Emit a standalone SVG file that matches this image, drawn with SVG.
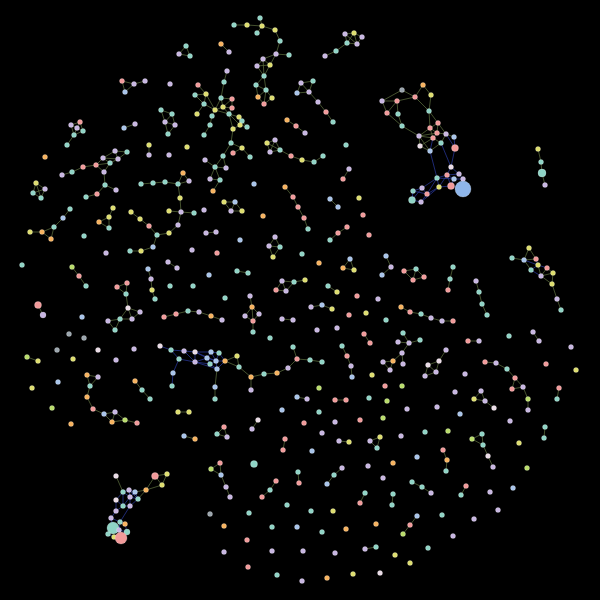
<svg xmlns="http://www.w3.org/2000/svg" width="600" height="600" viewBox="0 0 600 600">
<style>
.e{fill:none;stroke-width:0.8;stroke-linecap:round}
.eo{stroke:#56663a}
.en{stroke:#26348f}
circle{stroke:#ffffff;stroke-opacity:0.35;stroke-width:0.6}
.a{fill:#a8c4ea}.c{fill:#8fd4c6}.p{fill:#f29a9a}.y{fill:#dede6e}.g2{fill:#b9dd6a}.l{fill:#c8b6e2}.o{fill:#f7b25e}.w{fill:#eadbe6}.g{fill:#9aa5ad}.big{fill:#8fb6ea}
</style>
<rect x="0" y="0" width="600" height="600" fill="#000"/>
<g id="connectors">
<path class="e eo" d="M186 46L179 54M179 54L190 56M190 56L186 46M122 81L134 84M134 84L145 81M122 81L125 92M125 92L134 84M198 85L206 94M195 95L206 94M195 95L204 104M197 114L204 104M206 94L204 104M206 94L215 110M204 104L215 110M227 71L224 82M224 82L221 98M221 98L232 99M221 98L223 107M221 98L215 110M215 110L223 107M223 107L232 99M223 107L232 108M232 99L232 108M215 110L229 114M223 107L229 114M229 114L232 108M229 114L239 117M229 114L240 125M239 117L242 121M242 121L247 127M240 125L247 127M239 117L240 125M233 129L229 114M233 129L240 125M215 110L212 116M212 116L210 125M210 125L204 135M233 129L231 143M231 143L242 148M242 148L250 157M242 148L233 153M231 143L223 156M223 156L215 167M215 167L205 160M223 156L226 168M226 168L215 167M215 167L210 179M215 167L220 180M220 180L213 191M210 179L220 180M161 110L172 114M161 110L165 122M172 114L165 122M172 114L175 125M165 122L175 125M165 122L168 134M175 125L168 134M124 128L135 124M80 122L71 125M80 122L77 128M80 122L83 131M71 125L77 128M71 125L74 135M77 128L83 131M77 128L74 135M83 131L74 135M74 135L67 145M149 145L149 155M62 175L72 172M72 172L83 167M83 167L96 165M96 165L103 158M96 165L110 163M96 165L104 172M103 158L115 151M115 151L127 152M127 152L118 159M118 159L110 163M103 158L110 163M115 151L118 159M103 158L118 159M110 163L104 172M104 172L105 185M105 185L116 190M105 185L97 194M97 194L86 197M36 183L45 189M36 183L33 193M36 183L41 198M45 189L33 193M45 189L41 198M33 193L41 198M141 184L153 183M153 183L165 182M165 182L178 184M178 184L183 173M183 173L189 181M189 181L178 184M178 184L180 198M180 198L181 212M169 211L181 212M181 212L194 213M181 212L178 225M178 225L169 233M169 233L157 235M157 235L149 226M149 226L140 219M140 219L131 212M157 235L153 247M153 247L141 251M141 251L130 251M113 208L109 217M109 217L99 222M99 222L109 228M109 228L109 217M70 209L63 218M63 218L54 227M54 227L42 232M42 232L30 232M42 232L51 239M51 239L54 227M72 267L79 276M79 276L86 286M168 262L177 268M148 269L151 279M151 279L152 290M152 290L155 299M117 287L127 283M127 283L126 294M126 294L117 287M126 294L128 308M234 25L247 25M247 25L262 26M260 18L262 26M262 26L257 33M262 26L275 30M275 30L280 41M280 41L276 54M276 54L289 55M276 54L263 59M276 54L270 65M263 59L257 66M263 59L270 65M257 66L270 65M257 66L264 76M270 65L264 76M263 59L264 76M264 76L256 85M264 76L266 90M256 85L266 90M256 85L258 97M266 90L272 98M258 97L264 104M264 104L266 90M272 98L264 104M258 97L266 90M221 44L229 52M345 34L354 33M354 33L362 37M345 34L347 43M345 34L357 44M354 33L347 43M354 33L357 44M362 37L357 44M347 43L357 44M347 43L336 51M336 51L325 56M301 83L313 81M313 81L309 92M309 92L297 93M297 93L301 83M301 83L309 92M309 92L318 102M318 102L326 112M326 112L333 122M287 120L296 126M296 126L305 133M275 140L267 143M267 143L270 152M270 152L280 150M275 140L280 150M267 143L280 150M275 140L270 152M280 150L291 156M291 156L302 160M302 160L314 162M314 162L323 156M349 169L343 179M285 187L293 197M293 197L298 207M298 207L304 218M304 218L308 229M330 199L338 207M224 202L235 202M224 202L231 211M235 202L231 211M235 202L242 211M231 211L242 211M206 233L216 232M347 227L338 233M338 233L330 240M275 237L269 246M275 237L280 247M269 246L280 247M269 246L273 257M280 247L273 257M350 259L343 268M343 268L354 270M354 270L350 259M386 256L391 267M391 267L382 275M237 271L248 273M282 281L276 290M276 290L286 291M282 281L286 291M282 281L294 282M286 291L294 282M294 282L305 280M328 286L337 292"/>
<path class="e eo" d="M423 85L431 95M423 85L415 97M415 97L402 90M415 97L429 111M431 95L429 111M402 90L382 101M382 101L397 101M397 101L415 97M382 101L387 113M387 113L397 101M397 101L398 114M387 113L402 126M398 114L402 126M402 126L419 136M429 111L430 128M429 111L438 123M419 136L430 128M419 136L433 138M419 136L437 133M419 136L420 146M419 136L430 151M430 128L438 123M430 128L437 133M430 128L433 138M438 123L446 134M438 123L437 133M437 133L446 134M437 133L433 138M446 134L454 137M433 138L441 143M441 143L446 134M433 138L420 146M420 146L430 151M430 151L441 143"/>
<path class="e en" d="M430 151L433 138M454 137L455 148M446 134L455 148M455 148L451 167M441 143L451 167M430 151L437 178M451 167L447 175M451 167L459 174M437 178L447 175M437 178L454 179M437 178L439 187M447 175L459 174M447 175L454 179M459 174L463 179M454 179L463 179M454 179L451 186M447 175L451 186M451 186L463 189M439 187L451 186M439 187L447 175M437 178L422 188M422 188L413 191M422 188L427 194M413 191L412 200M427 194L421 202M412 200L421 202M413 191L427 194M422 188L412 200M439 187L427 194M437 178L427 194M421 202L439 187"/>
<path class="e eo" d="M538 149L541 162M541 162L542 173M542 173L545 185M512 258L524 260M529 248L524 260M529 248L536 259M524 260L536 259M524 260L531 270M538 265L541 276M547 268L541 276M547 268L553 273M541 276L553 273M541 276L552 284M553 273L552 284M552 284L557 299M557 299L561 310M404 271L416 269M404 271L413 280M416 269L413 280M416 269L424 277M413 280L424 277M453 267L450 279M450 279L448 290M476 281L479 292M479 292L482 304M482 304L487 315M38 305L43 315M128 308L140 312M140 312L132 319M128 308L132 319M128 308L120 319M120 319L132 319M108 321L120 319M120 319L115 330M108 321L115 330M164 317L176 314M176 314L188 311M188 311L199 312M199 312L211 316M211 316L222 320M27 357L38 361M87 375L98 377M98 377L90 386M87 375L90 386M90 386L87 397M87 397L93 409M93 409L104 414M104 414L115 412M104 414L112 422M115 412L112 422M115 412L125 420M112 422L125 420M125 420L137 423M135 381L142 390M142 390L150 399M178 412L189 412M184 436L195 439M250 296L252 307M252 307L245 316M252 307L259 314M245 316L253 321M259 314L253 321M252 307L253 321M253 321L253 332M311 307L322 305M322 305L332 309M282 319L293 320M364 334L370 343M342 346L347 356M347 356L351 366M351 366L352 377M398 342L409 343M403 333L409 343M409 343L420 340M409 343L402 353M402 353L403 364M402 353L393 361M393 361L383 362M383 362L390 370M393 361L390 370M297 397L307 399M335 400L346 400M258 420L252 429M224 427L217 434M217 434L227 437M227 437L224 427M285 439L283 450M339 441L349 442M380 437L370 441M370 441L377 448M377 448L380 437M220 463L211 469M211 469L221 475M220 463L221 475M221 475L226 487M226 487L230 497M298 472L299 483M342 468L334 475M334 475L327 484M276 481L270 490M270 490L262 497M365 493L360 503M393 494L392 505M365 549L376 547M401 307L410 312M410 312L421 314M421 314L431 318M431 318L442 321M442 321L453 321M533 332L539 341M468 341L479 341M446 350L439 361M439 361L428 365M439 361L436 372M428 365L436 372M428 365L425 376M436 372L425 376M485 362L496 363M496 363L507 369M507 369L515 378M515 378L512 389M515 378L523 387M512 389L523 387M523 387L528 399M528 399L528 410M559 388L557 399M481 391L474 399M481 391L485 401M474 399L485 401M485 401L494 408M482 434L472 439M482 434L483 445M472 439L483 445M483 445L488 456M488 456L493 467M545 427L544 438M443 450L447 460M447 460L446 471M412 482L422 487M422 487L431 493M466 486L461 495M417 516L410 525M410 525L403 534"/>
<path class="e en" d="M524 260L538 265M536 259L538 265M538 265L531 270M538 265L547 268M531 270L541 276M160 346L171 350M171 350L184 351M184 351L195 352M171 350L179 359M179 359L173 373M173 373L172 386M184 351L195 362M179 359L195 362M195 352L195 362M195 352L207 358M195 352L211 352M195 362L207 358M195 362L210 364M211 352L219 353M211 352L207 358M211 352L216 361M219 353L216 361M219 353L225 361M207 358L216 361M207 358L210 364M216 361L225 361M210 364L217 369M216 361L217 369M225 361L217 369M210 364L216 361M195 352L216 361M195 362L217 369"/>
<path class="e eo" d="M225 361L237 356M237 356L239 367M239 367L225 361M239 367L251 377M251 377L264 374M264 374L277 373M277 373L288 368M288 368L297 359M297 359L293 347M297 359L310 360M310 360L322 362M251 377L251 390M217 369L215 387M215 387L215 399M116 476L123 492M155 476L167 474M155 476L162 485M167 474L162 485M155 476L146 490M162 485L146 490M146 490L135 492M146 490L138 499"/>
<path class="e en" d="M123 492L129 490M129 490L135 492M123 492L130 497M129 490L130 497M135 492L130 497M135 492L138 499M130 497L138 499M123 492L116 500M116 500L123 506M123 506L130 506M130 497L123 506M130 497L130 506M138 499L130 506M116 500L116 511M123 506L116 511M130 506L120 522M116 511L111 518M111 518L120 522M120 522L125 524M111 518L113 528M113 528L119 530M120 522L119 530M125 524L127 532M119 530L127 532M113 528L108 534M108 534L114 537M114 537L121 538M119 530L121 538M127 532L121 538M123 492L123 506M129 490L138 499"/>
</g>
<g id="nodes">
<g id="n1" class="c"><circle cx="186" cy="46" r="2.5"/></g>
<g id="n2" class="l"><circle cx="179" cy="54" r="2.5"/></g>
<g id="n3" class="c"><circle cx="190" cy="56" r="2.5"/></g>
<g id="n4" class="p"><circle cx="122" cy="81" r="2.5"/></g>
<g id="n5" class="l"><circle cx="134" cy="84" r="2.5"/></g>
<g id="n6" class="l"><circle cx="145" cy="81" r="2.5"/></g>
<g id="n7" class="a"><circle cx="125" cy="92" r="2.5"/></g>
<g id="n8" class="l"><circle cx="170" cy="84" r="2.5"/></g>
<g id="n9" class="p"><circle cx="198" cy="85" r="2.5"/></g>
<g id="n10" class="c"><circle cx="195" cy="95" r="2.5"/></g>
<g id="n11" class="y"><circle cx="197" cy="114" r="2.5"/></g>
<g id="n12" class="l"><circle cx="227" cy="71" r="2.5"/></g>
<g id="n13" class="c"><circle cx="224" cy="82" r="2.5"/></g>
<g id="n14" class="c"><circle cx="221" cy="98" r="2.5"/></g>
<g id="n15" class="y"><circle cx="206" cy="94" r="2.5"/></g>
<g id="n16" class="c"><circle cx="204" cy="104" r="2.5"/></g>
<g id="n17" class="y"><circle cx="215" cy="110" r="2.5"/></g>
<g id="n18" class="p"><circle cx="232" cy="99" r="2.5"/></g>
<g id="n19" class="y"><circle cx="223" cy="107" r="2.5"/></g>
<g id="n20" class="p"><circle cx="232" cy="108" r="2.5"/></g>
<g id="n21" class="c"><circle cx="229" cy="114" r="2.5"/></g>
<g id="n22" class="y"><circle cx="239" cy="117" r="2.5"/></g>
<g id="n23" class="c"><circle cx="242" cy="121" r="2.5"/></g>
<g id="n24" class="y"><circle cx="240" cy="125" r="2.5"/></g>
<g id="n25" class="c"><circle cx="247" cy="127" r="2.5"/></g>
<g id="n26" class="y"><circle cx="233" cy="129" r="2.5"/></g>
<g id="n27" class="c"><circle cx="212" cy="116" r="2.5"/></g>
<g id="n28" class="c"><circle cx="210" cy="125" r="2.5"/></g>
<g id="n29" class="c"><circle cx="204" cy="135" r="2.5"/></g>
<g id="n30" class="c"><circle cx="231" cy="143" r="2.5"/></g>
<g id="n31" class="y"><circle cx="242" cy="148" r="2.5"/></g>
<g id="n32" class="p"><circle cx="233" cy="153" r="2.5"/></g>
<g id="n33" class="c"><circle cx="250" cy="157" r="2.5"/></g>
<g id="n34" class="c"><circle cx="223" cy="156" r="2.5"/></g>
<g id="n35" class="c"><circle cx="215" cy="167" r="2.5"/></g>
<g id="n36" class="l"><circle cx="205" cy="160" r="2.5"/></g>
<g id="n37" class="l"><circle cx="226" cy="168" r="2.5"/></g>
<g id="n38" class="l"><circle cx="210" cy="179" r="2.5"/></g>
<g id="n39" class="c"><circle cx="220" cy="180" r="2.5"/></g>
<g id="n40" class="o"><circle cx="213" cy="191" r="2.5"/></g>
<g id="n41" class="c"><circle cx="161" cy="110" r="2.5"/></g>
<g id="n42" class="c"><circle cx="172" cy="114" r="2.5"/></g>
<g id="n43" class="l"><circle cx="165" cy="122" r="2.5"/></g>
<g id="n44" class="l"><circle cx="175" cy="125" r="2.5"/></g>
<g id="n45" class="c"><circle cx="168" cy="134" r="2.5"/></g>
<g id="n46" class="a"><circle cx="124" cy="128" r="2.5"/></g>
<g id="n47" class="l"><circle cx="135" cy="124" r="2.5"/></g>
<g id="n48" class="p"><circle cx="80" cy="122" r="2.5"/></g>
<g id="n49" class="l"><circle cx="71" cy="125" r="2.5"/></g>
<g id="n50" class="l"><circle cx="77" cy="128" r="2.5"/></g>
<g id="n51" class="c"><circle cx="83" cy="131" r="2.5"/></g>
<g id="n52" class="c"><circle cx="74" cy="135" r="2.5"/></g>
<g id="n53" class="c"><circle cx="67" cy="145" r="2.5"/></g>
<g id="n54" class="y"><circle cx="149" cy="145" r="2.5"/></g>
<g id="n55" class="l"><circle cx="149" cy="155" r="2.5"/></g>
<g id="n56" class="y"><circle cx="187" cy="147" r="2.5"/></g>
<g id="n57" class="l"><circle cx="169" cy="155" r="2.5"/></g>
<g id="n58" class="o"><circle cx="45" cy="157" r="2.5"/></g>
<g id="n59" class="l"><circle cx="115" cy="151" r="2.5"/></g>
<g id="n60" class="c"><circle cx="127" cy="152" r="2.5"/></g>
<g id="n61" class="l"><circle cx="103" cy="158" r="2.5"/></g>
<g id="n62" class="l"><circle cx="118" cy="159" r="2.5"/></g>
<g id="n63" class="c"><circle cx="110" cy="163" r="2.5"/></g>
<g id="n64" class="p"><circle cx="96" cy="165" r="2.5"/></g>
<g id="n65" class="l"><circle cx="104" cy="172" r="2.5"/></g>
<g id="n66" class="p"><circle cx="83" cy="167" r="2.5"/></g>
<g id="n67" class="c"><circle cx="72" cy="172" r="2.5"/></g>
<g id="n68" class="l"><circle cx="62" cy="175" r="2.5"/></g>
<g id="n69" class="c"><circle cx="105" cy="185" r="2.5"/></g>
<g id="n70" class="l"><circle cx="116" cy="190" r="2.5"/></g>
<g id="n71" class="p"><circle cx="97" cy="194" r="2.5"/></g>
<g id="n72" class="c"><circle cx="86" cy="197" r="2.5"/></g>
<g id="n73" class="y"><circle cx="36" cy="183" r="2.5"/></g>
<g id="n74" class="l"><circle cx="45" cy="189" r="2.5"/></g>
<g id="n75" class="c"><circle cx="33" cy="193" r="2.5"/></g>
<g id="n76" class="c"><circle cx="41" cy="198" r="2.5"/></g>
<g id="n77" class="c"><circle cx="141" cy="184" r="2.5"/></g>
<g id="n78" class="c"><circle cx="153" cy="183" r="2.5"/></g>
<g id="n79" class="c"><circle cx="165" cy="182" r="2.5"/></g>
<g id="n80" class="c"><circle cx="178" cy="184" r="2.5"/></g>
<g id="n81" class="o"><circle cx="183" cy="173" r="2.5"/></g>
<g id="n82" class="l"><circle cx="189" cy="181" r="2.5"/></g>
<g id="n83" class="y"><circle cx="180" cy="198" r="2.5"/></g>
<g id="n84" class="l"><circle cx="181" cy="212" r="2.5"/></g>
<g id="n85" class="y"><circle cx="169" cy="211" r="2.5"/></g>
<g id="n86" class="c"><circle cx="194" cy="213" r="2.5"/></g>
<g id="n87" class="l"><circle cx="178" cy="225" r="2.5"/></g>
<g id="n88" class="y"><circle cx="169" cy="233" r="2.5"/></g>
<g id="n89" class="c"><circle cx="157" cy="235" r="2.5"/></g>
<g id="n90" class="a"><circle cx="153" cy="247" r="2.5"/></g>
<g id="n91" class="y"><circle cx="141" cy="251" r="2.5"/></g>
<g id="n92" class="c"><circle cx="130" cy="251" r="2.5"/></g>
<g id="n93" class="p"><circle cx="149" cy="226" r="2.5"/></g>
<g id="n94" class="y"><circle cx="140" cy="219" r="2.5"/></g>
<g id="n95" class="y"><circle cx="131" cy="212" r="2.5"/></g>
<g id="n96" class="y"><circle cx="113" cy="208" r="2.5"/></g>
<g id="n97" class="y"><circle cx="109" cy="217" r="2.5"/></g>
<g id="n98" class="o"><circle cx="99" cy="222" r="2.5"/></g>
<g id="n99" class="c"><circle cx="109" cy="228" r="2.5"/></g>
<g id="n100" class="c"><circle cx="70" cy="209" r="2.5"/></g>
<g id="n101" class="a"><circle cx="63" cy="218" r="2.5"/></g>
<g id="n102" class="c"><circle cx="54" cy="227" r="2.5"/></g>
<g id="n103" class="o"><circle cx="42" cy="232" r="2.5"/></g>
<g id="n104" class="y"><circle cx="30" cy="232" r="2.5"/></g>
<g id="n105" class="o"><circle cx="51" cy="239" r="2.5"/></g>
<g id="n106" class="c"><circle cx="84" cy="236" r="2.5"/></g>
<g id="n107" class="l"><circle cx="106" cy="253" r="2.5"/></g>
<g id="n108" class="l"><circle cx="192" cy="250" r="2.5"/></g>
<g id="n109" class="c"><circle cx="22" cy="265" r="2.5"/></g>
<g id="n110" class="g2"><circle cx="72" cy="267" r="2.5"/></g>
<g id="n111" class="p"><circle cx="79" cy="276" r="2.5"/></g>
<g id="n112" class="c"><circle cx="86" cy="286" r="2.5"/></g>
<g id="n113" class="l"><circle cx="168" cy="262" r="2.5"/></g>
<g id="n114" class="l"><circle cx="177" cy="268" r="2.5"/></g>
<g id="n115" class="a"><circle cx="148" cy="269" r="2.5"/></g>
<g id="n116" class="l"><circle cx="151" cy="279" r="2.5"/></g>
<g id="n117" class="y"><circle cx="152" cy="290" r="2.5"/></g>
<g id="n118" class="c"><circle cx="155" cy="299" r="2.5"/></g>
<g id="n119" class="p"><circle cx="117" cy="287" r="2.5"/></g>
<g id="n120" class="p"><circle cx="127" cy="283" r="2.5"/></g>
<g id="n121" class="c"><circle cx="126" cy="294" r="2.5"/></g>
<g id="n122" class="c"><circle cx="170" cy="286" r="2.5"/></g>
<g id="n123" class="c"><circle cx="193" cy="286" r="2.5"/></g>
<g id="n124" class="c"><circle cx="260" cy="18" r="2.5"/></g>
<g id="n125" class="y"><circle cx="247" cy="25" r="2.5"/></g>
<g id="n126" class="c"><circle cx="234" cy="25" r="2.5"/></g>
<g id="n127" class="y"><circle cx="262" cy="26" r="2.5"/></g>
<g id="n128" class="c"><circle cx="257" cy="33" r="2.5"/></g>
<g id="n129" class="y"><circle cx="275" cy="30" r="2.5"/></g>
<g id="n130" class="c"><circle cx="280" cy="41" r="2.5"/></g>
<g id="n131" class="l"><circle cx="276" cy="54" r="2.5"/></g>
<g id="n132" class="c"><circle cx="289" cy="55" r="2.5"/></g>
<g id="n133" class="l"><circle cx="263" cy="59" r="2.5"/></g>
<g id="n134" class="l"><circle cx="257" cy="66" r="2.5"/></g>
<g id="n135" class="y"><circle cx="270" cy="65" r="2.5"/></g>
<g id="n136" class="c"><circle cx="264" cy="76" r="2.5"/></g>
<g id="n137" class="c"><circle cx="256" cy="85" r="2.5"/></g>
<g id="n138" class="c"><circle cx="266" cy="90" r="2.5"/></g>
<g id="n139" class="o"><circle cx="258" cy="97" r="2.5"/></g>
<g id="n140" class="y"><circle cx="272" cy="98" r="2.5"/></g>
<g id="n141" class="p"><circle cx="264" cy="104" r="2.5"/></g>
<g id="n142" class="o"><circle cx="221" cy="44" r="2.5"/></g>
<g id="n143" class="l"><circle cx="229" cy="52" r="2.5"/></g>
<g id="n144" class="l"><circle cx="345" cy="34" r="2.5"/></g>
<g id="n145" class="y"><circle cx="354" cy="33" r="2.5"/></g>
<g id="n146" class="l"><circle cx="362" cy="37" r="2.5"/></g>
<g id="n147" class="c"><circle cx="347" cy="43" r="2.5"/></g>
<g id="n148" class="l"><circle cx="357" cy="44" r="2.5"/></g>
<g id="n149" class="c"><circle cx="336" cy="51" r="2.5"/></g>
<g id="n150" class="l"><circle cx="325" cy="56" r="2.5"/></g>
<g id="n151" class="l"><circle cx="301" cy="83" r="2.5"/></g>
<g id="n152" class="c"><circle cx="313" cy="81" r="2.5"/></g>
<g id="n153" class="a"><circle cx="297" cy="93" r="2.5"/></g>
<g id="n154" class="l"><circle cx="309" cy="92" r="2.5"/></g>
<g id="n155" class="l"><circle cx="318" cy="102" r="2.5"/></g>
<g id="n156" class="p"><circle cx="326" cy="112" r="2.5"/></g>
<g id="n157" class="c"><circle cx="333" cy="122" r="2.5"/></g>
<g id="n158" class="o"><circle cx="287" cy="120" r="2.5"/></g>
<g id="n159" class="p"><circle cx="296" cy="126" r="2.5"/></g>
<g id="n160" class="l"><circle cx="305" cy="133" r="2.5"/></g>
<g id="n161" class="l"><circle cx="275" cy="140" r="2.5"/></g>
<g id="n162" class="y"><circle cx="267" cy="143" r="2.5"/></g>
<g id="n163" class="l"><circle cx="270" cy="152" r="2.5"/></g>
<g id="n164" class="c"><circle cx="280" cy="150" r="2.5"/></g>
<g id="n165" class="p"><circle cx="291" cy="156" r="2.5"/></g>
<g id="n166" class="y"><circle cx="302" cy="160" r="2.5"/></g>
<g id="n167" class="c"><circle cx="314" cy="162" r="2.5"/></g>
<g id="n168" class="c"><circle cx="323" cy="156" r="2.5"/></g>
<g id="n169" class="c"><circle cx="346" cy="145" r="2.5"/></g>
<g id="n170" class="l"><circle cx="349" cy="169" r="2.5"/></g>
<g id="n171" class="p"><circle cx="343" cy="179" r="2.5"/></g>
<g id="n172" class="a"><circle cx="254" cy="184" r="2.5"/></g>
<g id="n173" class="o"><circle cx="285" cy="187" r="2.5"/></g>
<g id="n174" class="p"><circle cx="293" cy="197" r="2.5"/></g>
<g id="n175" class="p"><circle cx="298" cy="207" r="2.5"/></g>
<g id="n176" class="p"><circle cx="304" cy="218" r="2.5"/></g>
<g id="n177" class="c"><circle cx="308" cy="229" r="2.5"/></g>
<g id="n178" class="a"><circle cx="330" cy="199" r="2.5"/></g>
<g id="n179" class="a"><circle cx="338" cy="207" r="2.5"/></g>
<g id="n180" class="y"><circle cx="359" cy="198" r="2.5"/></g>
<g id="n181" class="p"><circle cx="363" cy="215" r="2.5"/></g>
<g id="n182" class="y"><circle cx="224" cy="202" r="2.5"/></g>
<g id="n183" class="a"><circle cx="235" cy="202" r="2.5"/></g>
<g id="n184" class="l"><circle cx="231" cy="211" r="2.5"/></g>
<g id="n185" class="y"><circle cx="242" cy="211" r="2.5"/></g>
<g id="n186" class="l"><circle cx="204" cy="210" r="2.5"/></g>
<g id="n187" class="o"><circle cx="263" cy="216" r="2.5"/></g>
<g id="n188" class="l"><circle cx="206" cy="233" r="2.5"/></g>
<g id="n189" class="l"><circle cx="216" cy="232" r="2.5"/></g>
<g id="n190" class="a"><circle cx="240" cy="240" r="2.5"/></g>
<g id="n191" class="p"><circle cx="347" cy="227" r="2.5"/></g>
<g id="n192" class="p"><circle cx="338" cy="233" r="2.5"/></g>
<g id="n193" class="c"><circle cx="330" cy="240" r="2.5"/></g>
<g id="n194" class="p"><circle cx="369" cy="235" r="2.5"/></g>
<g id="n195" class="l"><circle cx="275" cy="237" r="2.5"/></g>
<g id="n196" class="l"><circle cx="269" cy="246" r="2.5"/></g>
<g id="n197" class="c"><circle cx="280" cy="247" r="2.5"/></g>
<g id="n198" class="y"><circle cx="273" cy="257" r="2.5"/></g>
<g id="n199" class="p"><circle cx="217" cy="253" r="2.5"/></g>
<g id="n200" class="c"><circle cx="302" cy="254" r="2.5"/></g>
<g id="n201" class="o"><circle cx="319" cy="263" r="2.5"/></g>
<g id="n202" class="a"><circle cx="350" cy="259" r="2.5"/></g>
<g id="n203" class="o"><circle cx="343" cy="268" r="2.5"/></g>
<g id="n204" class="y"><circle cx="354" cy="270" r="2.5"/></g>
<g id="n205" class="a"><circle cx="386" cy="256" r="2.5"/></g>
<g id="n206" class="l"><circle cx="391" cy="267" r="2.5"/></g>
<g id="n207" class="a"><circle cx="382" cy="275" r="2.5"/></g>
<g id="n208" class="a"><circle cx="209" cy="275" r="2.5"/></g>
<g id="n209" class="c"><circle cx="237" cy="271" r="2.5"/></g>
<g id="n210" class="c"><circle cx="248" cy="273" r="2.5"/></g>
<g id="n211" class="l"><circle cx="282" cy="281" r="2.5"/></g>
<g id="n212" class="p"><circle cx="276" cy="290" r="2.5"/></g>
<g id="n213" class="l"><circle cx="286" cy="291" r="2.5"/></g>
<g id="n214" class="c"><circle cx="294" cy="282" r="2.5"/></g>
<g id="n215" class="y"><circle cx="305" cy="280" r="2.5"/></g>
<g id="n216" class="c"><circle cx="328" cy="286" r="2.5"/></g>
<g id="n217" class="y"><circle cx="337" cy="292" r="2.5"/></g>
<g id="n218" class="p"><circle cx="357" cy="296" r="2.5"/></g>
<g id="n219" class="l"><circle cx="378" cy="299" r="2.5"/></g>
<g id="n220" class="c"><circle cx="225" cy="298" r="2.5"/></g>
<g id="n221" class="l"><circle cx="250" cy="296" r="2.5"/></g>
<g id="n222" class="o"><circle cx="423" cy="85" r="2.5"/></g>
<g id="n223" class="y"><circle cx="431" cy="95" r="2.5"/></g>
<g id="n224" class="p"><circle cx="415" cy="97" r="2.5"/></g>
<g id="n225" class="g"><circle cx="402" cy="90" r="2.5"/></g>
<g id="n226" class="l"><circle cx="382" cy="101" r="2.5"/></g>
<g id="n227" class="p"><circle cx="397" cy="101" r="2.5"/></g>
<g id="n228" class="p"><circle cx="387" cy="113" r="2.5"/></g>
<g id="n229" class="c"><circle cx="398" cy="114" r="2.5"/></g>
<g id="n230" class="c"><circle cx="402" cy="126" r="2.5"/></g>
<g id="n231" class="c"><circle cx="429" cy="111" r="2.5"/></g>
<g id="n232" class="p"><circle cx="438" cy="123" r="2.5"/></g>
<g id="n233" class="p"><circle cx="430" cy="128" r="2.5"/></g>
<g id="n234" class="p"><circle cx="437" cy="133" r="2.5"/></g>
<g id="n235" class="l"><circle cx="446" cy="134" r="2.5"/></g>
<g id="n236" class="a"><circle cx="454" cy="137" r="2.5"/></g>
<g id="n237" class="l"><circle cx="419" cy="136" r="2.5"/></g>
<g id="n238" class="p"><circle cx="433" cy="138" r="2.5"/></g>
<g id="n239" class="c"><circle cx="441" cy="143" r="2.5"/></g>
<g id="n240" class="w"><circle cx="420" cy="146" r="2.5"/></g>
<g id="n241" class="a"><circle cx="430" cy="151" r="2.5"/></g>
<g id="n242" class="p"><circle cx="455" cy="148" r="3.5"/></g>
<g id="n243" class="w"><circle cx="451" cy="167" r="2.5"/></g>
<g id="n244" class="c"><circle cx="437" cy="178" r="2.5"/></g>
<g id="n245" class="p"><circle cx="447" cy="175" r="2.5"/></g>
<g id="n246" class="l"><circle cx="459" cy="174" r="2.5"/></g>
<g id="n247" class="a"><circle cx="454" cy="179" r="2.5"/></g>
<g id="n248" class="l"><circle cx="463" cy="179" r="2.5"/></g>
<g id="n249" class="p"><circle cx="451" cy="186" r="3.5"/></g>
<g id="n250" class="y"><circle cx="439" cy="187" r="2.5"/></g>
<g id="n251" class="big"><circle cx="463" cy="189" r="8"/></g>
<g id="n252" class="l"><circle cx="422" cy="188" r="2.5"/></g>
<g id="n253" class="c"><circle cx="413" cy="191" r="2.5"/></g>
<g id="n254" class="p"><circle cx="427" cy="194" r="2.5"/></g>
<g id="n255" class="c"><circle cx="412" cy="200" r="3.5"/></g>
<g id="n256" class="l"><circle cx="421" cy="202" r="2.5"/></g>
<g id="n257" class="y"><circle cx="538" cy="149" r="2.5"/></g>
<g id="n258" class="c"><circle cx="541" cy="162" r="2.5"/></g>
<g id="n259" class="c"><circle cx="542" cy="173" r="4"/></g>
<g id="n260" class="l"><circle cx="545" cy="185" r="2.5"/></g>
<g id="n261" class="y"><circle cx="529" cy="248" r="2.5"/></g>
<g id="n262" class="c"><circle cx="512" cy="258" r="2.5"/></g>
<g id="n263" class="a"><circle cx="524" cy="260" r="2.5"/></g>
<g id="n264" class="p"><circle cx="536" cy="259" r="2.5"/></g>
<g id="n265" class="y"><circle cx="538" cy="265" r="2.5"/></g>
<g id="n266" class="c"><circle cx="531" cy="270" r="2.5"/></g>
<g id="n267" class="p"><circle cx="547" cy="268" r="2.5"/></g>
<g id="n268" class="l"><circle cx="541" cy="276" r="2.5"/></g>
<g id="n269" class="y"><circle cx="553" cy="273" r="2.5"/></g>
<g id="n270" class="y"><circle cx="552" cy="284" r="2.5"/></g>
<g id="n271" class="l"><circle cx="557" cy="299" r="2.5"/></g>
<g id="n272" class="c"><circle cx="561" cy="310" r="2.5"/></g>
<g id="n273" class="p"><circle cx="404" cy="271" r="2.5"/></g>
<g id="n274" class="c"><circle cx="416" cy="269" r="2.5"/></g>
<g id="n275" class="p"><circle cx="413" cy="280" r="2.5"/></g>
<g id="n276" class="p"><circle cx="424" cy="277" r="2.5"/></g>
<g id="n277" class="c"><circle cx="453" cy="267" r="2.5"/></g>
<g id="n278" class="c"><circle cx="450" cy="279" r="2.5"/></g>
<g id="n279" class="p"><circle cx="448" cy="290" r="2.5"/></g>
<g id="n280" class="l"><circle cx="476" cy="281" r="2.5"/></g>
<g id="n281" class="c"><circle cx="479" cy="292" r="2.5"/></g>
<g id="n282" class="c"><circle cx="482" cy="304" r="2.5"/></g>
<g id="n283" class="c"><circle cx="487" cy="315" r="2.5"/></g>
<g id="n284" class="p"><circle cx="38" cy="305" r="3.5"/></g>
<g id="n285" class="l"><circle cx="43" cy="315" r="3"/></g>
<g id="n286" class="a"><circle cx="82" cy="317" r="2.5"/></g>
<g id="n287" class="w"><circle cx="128" cy="308" r="2.5"/></g>
<g id="n288" class="l"><circle cx="140" cy="312" r="2.5"/></g>
<g id="n289" class="c"><circle cx="120" cy="319" r="2.5"/></g>
<g id="n290" class="l"><circle cx="132" cy="319" r="2.5"/></g>
<g id="n291" class="l"><circle cx="108" cy="321" r="2.5"/></g>
<g id="n292" class="c"><circle cx="115" cy="330" r="2.5"/></g>
<g id="n293" class="p"><circle cx="164" cy="317" r="2.5"/></g>
<g id="n294" class="p"><circle cx="176" cy="314" r="2.5"/></g>
<g id="n295" class="c"><circle cx="188" cy="311" r="2.5"/></g>
<g id="n296" class="l"><circle cx="199" cy="312" r="2.5"/></g>
<g id="n297" class="o"><circle cx="211" cy="316" r="2.5"/></g>
<g id="n298" class="l"><circle cx="222" cy="320" r="2.5"/></g>
<g id="n299" class="g"><circle cx="69" cy="334" r="2.5"/></g>
<g id="n300" class="g"><circle cx="84" cy="338" r="2.5"/></g>
<g id="n301" class="g"><circle cx="57" cy="350" r="2.5"/></g>
<g id="n302" class="w"><circle cx="98" cy="350" r="2.5"/></g>
<g id="n303" class="l"><circle cx="134" cy="349" r="2.5"/></g>
<g id="n304" class="g2"><circle cx="27" cy="357" r="2.5"/></g>
<g id="n305" class="y"><circle cx="38" cy="361" r="2.5"/></g>
<g id="n306" class="y"><circle cx="73" cy="359" r="2.5"/></g>
<g id="n307" class="l"><circle cx="116" cy="360" r="2.5"/></g>
<g id="n308" class="a"><circle cx="58" cy="382" r="2.5"/></g>
<g id="n309" class="y"><circle cx="32" cy="388" r="2.5"/></g>
<g id="n310" class="g2"><circle cx="52" cy="408" r="2.5"/></g>
<g id="n311" class="o"><circle cx="71" cy="424" r="2.5"/></g>
<g id="n312" class="w"><circle cx="160" cy="346" r="2.5"/></g>
<g id="n313" class="c"><circle cx="171" cy="350" r="2.5"/></g>
<g id="n314" class="l"><circle cx="184" cy="351" r="2.5"/></g>
<g id="n315" class="w"><circle cx="195" cy="352" r="2.5"/></g>
<g id="n316" class="c"><circle cx="179" cy="359" r="2.5"/></g>
<g id="n317" class="l"><circle cx="195" cy="362" r="2.5"/></g>
<g id="n318" class="a"><circle cx="173" cy="373" r="2.5"/></g>
<g id="n319" class="c"><circle cx="172" cy="386" r="2.5"/></g>
<g id="n320" class="a"><circle cx="211" cy="352" r="2.5"/></g>
<g id="n321" class="c"><circle cx="219" cy="353" r="2.5"/></g>
<g id="n322" class="a"><circle cx="207" cy="358" r="2.5"/></g>
<g id="n323" class="a"><circle cx="216" cy="361" r="2.5"/></g>
<g id="n324" class="o"><circle cx="225" cy="361" r="2.5"/></g>
<g id="n325" class="c"><circle cx="210" cy="364" r="2.5"/></g>
<g id="n326" class="a"><circle cx="217" cy="369" r="2.5"/></g>
<g id="n327" class="y"><circle cx="237" cy="356" r="2.5"/></g>
<g id="n328" class="c"><circle cx="239" cy="367" r="2.5"/></g>
<g id="n329" class="o"><circle cx="251" cy="377" r="2.5"/></g>
<g id="n330" class="l"><circle cx="251" cy="390" r="2.5"/></g>
<g id="n331" class="a"><circle cx="215" cy="387" r="2.5"/></g>
<g id="n332" class="c"><circle cx="215" cy="399" r="2.5"/></g>
<g id="n333" class="c"><circle cx="264" cy="374" r="2.5"/></g>
<g id="n334" class="o"><circle cx="277" cy="373" r="2.5"/></g>
<g id="n335" class="l"><circle cx="288" cy="368" r="2.5"/></g>
<g id="n336" class="p"><circle cx="297" cy="359" r="2.5"/></g>
<g id="n337" class="c"><circle cx="293" cy="347" r="2.5"/></g>
<g id="n338" class="c"><circle cx="310" cy="360" r="2.5"/></g>
<g id="n339" class="c"><circle cx="322" cy="362" r="2.5"/></g>
<g id="n340" class="o"><circle cx="87" cy="375" r="2.5"/></g>
<g id="n341" class="l"><circle cx="98" cy="377" r="2.5"/></g>
<g id="n342" class="c"><circle cx="90" cy="386" r="2.5"/></g>
<g id="n343" class="o"><circle cx="87" cy="397" r="2.5"/></g>
<g id="n344" class="p"><circle cx="93" cy="409" r="2.5"/></g>
<g id="n345" class="a"><circle cx="104" cy="414" r="2.5"/></g>
<g id="n346" class="l"><circle cx="115" cy="412" r="2.5"/></g>
<g id="n347" class="o"><circle cx="112" cy="422" r="2.5"/></g>
<g id="n348" class="g2"><circle cx="125" cy="420" r="2.5"/></g>
<g id="n349" class="p"><circle cx="137" cy="423" r="2.5"/></g>
<g id="n350" class="o"><circle cx="135" cy="381" r="2.5"/></g>
<g id="n351" class="c"><circle cx="142" cy="390" r="2.5"/></g>
<g id="n352" class="c"><circle cx="150" cy="399" r="2.5"/></g>
<g id="n353" class="y"><circle cx="178" cy="412" r="2.5"/></g>
<g id="n354" class="y"><circle cx="189" cy="412" r="2.5"/></g>
<g id="n355" class="a"><circle cx="184" cy="436" r="2.5"/></g>
<g id="n356" class="o"><circle cx="195" cy="439" r="2.5"/></g>
<g id="n357" class="w"><circle cx="116" cy="476" r="2.5"/></g>
<g id="n358" class="p"><circle cx="155" cy="476" r="3.5"/></g>
<g id="n359" class="y"><circle cx="167" cy="474" r="2.5"/></g>
<g id="n360" class="y"><circle cx="162" cy="485" r="2.5"/></g>
<g id="n361" class="o"><circle cx="146" cy="490" r="2.5"/></g>
<g id="n362" class="c"><circle cx="123" cy="492" r="2.5"/></g>
<g id="n363" class="l"><circle cx="129" cy="490" r="2.5"/></g>
<g id="n364" class="a"><circle cx="135" cy="492" r="2.5"/></g>
<g id="n365" class="l"><circle cx="130" cy="497" r="2.5"/></g>
<g id="n366" class="c"><circle cx="138" cy="499" r="2.5"/></g>
<g id="n367" class="w"><circle cx="116" cy="500" r="2.5"/></g>
<g id="n368" class="c"><circle cx="123" cy="506" r="2.5"/></g>
<g id="n369" class="l"><circle cx="130" cy="506" r="2.5"/></g>
<g id="n370" class="l"><circle cx="116" cy="511" r="2.5"/></g>
<g id="n371" class="l"><circle cx="111" cy="518" r="2.5"/></g>
<g id="n372" class="c"><circle cx="120" cy="522" r="2.5"/></g>
<g id="n373" class="o"><circle cx="125" cy="524" r="2.5"/></g>
<g id="n374" class="c"><circle cx="113" cy="528" r="6"/></g>
<g id="n375" class="c"><circle cx="108" cy="534" r="2.5"/></g>
<g id="n376" class="l"><circle cx="119" cy="530" r="2.5"/></g>
<g id="n377" class="c"><circle cx="127" cy="532" r="3"/></g>
<g id="n378" class="y"><circle cx="114" cy="537" r="2.5"/></g>
<g id="n379" class="p"><circle cx="121" cy="538" r="6"/></g>
<g id="n380" class="o"><circle cx="252" cy="307" r="2.5"/></g>
<g id="n381" class="l"><circle cx="245" cy="316" r="2.5"/></g>
<g id="n382" class="l"><circle cx="259" cy="314" r="2.5"/></g>
<g id="n383" class="p"><circle cx="253" cy="321" r="2.5"/></g>
<g id="n384" class="c"><circle cx="253" cy="332" r="2.5"/></g>
<g id="n385" class="l"><circle cx="311" cy="307" r="2.5"/></g>
<g id="n386" class="a"><circle cx="322" cy="305" r="2.5"/></g>
<g id="n387" class="y"><circle cx="332" cy="309" r="2.5"/></g>
<g id="n388" class="p"><circle cx="349" cy="315" r="2.5"/></g>
<g id="n389" class="y"><circle cx="366" cy="313" r="2.5"/></g>
<g id="n390" class="c"><circle cx="386" cy="320" r="2.5"/></g>
<g id="n391" class="l"><circle cx="282" cy="319" r="2.5"/></g>
<g id="n392" class="l"><circle cx="293" cy="320" r="2.5"/></g>
<g id="n393" class="c"><circle cx="270" cy="338" r="2.5"/></g>
<g id="n394" class="l"><circle cx="317" cy="330" r="2.5"/></g>
<g id="n395" class="l"><circle cx="337" cy="328" r="2.5"/></g>
<g id="n396" class="p"><circle cx="364" cy="334" r="2.5"/></g>
<g id="n397" class="p"><circle cx="370" cy="343" r="2.5"/></g>
<g id="n398" class="c"><circle cx="342" cy="346" r="2.5"/></g>
<g id="n399" class="p"><circle cx="347" cy="356" r="2.5"/></g>
<g id="n400" class="l"><circle cx="351" cy="366" r="2.5"/></g>
<g id="n401" class="a"><circle cx="352" cy="377" r="2.5"/></g>
<g id="n402" class="y"><circle cx="372" cy="375" r="2.5"/></g>
<g id="n403" class="l"><circle cx="398" cy="342" r="2.5"/></g>
<g id="n404" class="c"><circle cx="403" cy="333" r="2.5"/></g>
<g id="n405" class="l"><circle cx="409" cy="343" r="2.5"/></g>
<g id="n406" class="c"><circle cx="420" cy="340" r="2.5"/></g>
<g id="n407" class="l"><circle cx="402" cy="353" r="2.5"/></g>
<g id="n408" class="l"><circle cx="383" cy="362" r="2.5"/></g>
<g id="n409" class="o"><circle cx="393" cy="361" r="2.5"/></g>
<g id="n410" class="l"><circle cx="390" cy="370" r="2.5"/></g>
<g id="n411" class="l"><circle cx="403" cy="364" r="2.5"/></g>
<g id="n412" class="g2"><circle cx="319" cy="388" r="2.5"/></g>
<g id="n413" class="p"><circle cx="385" cy="386" r="2.5"/></g>
<g id="n414" class="a"><circle cx="297" cy="397" r="2.5"/></g>
<g id="n415" class="l"><circle cx="307" cy="399" r="2.5"/></g>
<g id="n416" class="p"><circle cx="335" cy="400" r="2.5"/></g>
<g id="n417" class="p"><circle cx="346" cy="400" r="2.5"/></g>
<g id="n418" class="c"><circle cx="369" cy="398" r="2.5"/></g>
<g id="n419" class="g2"><circle cx="387" cy="401" r="2.5"/></g>
<g id="n420" class="a"><circle cx="282" cy="410" r="2.5"/></g>
<g id="n421" class="c"><circle cx="319" cy="412" r="2.5"/></g>
<g id="n422" class="w"><circle cx="258" cy="420" r="2.5"/></g>
<g id="n423" class="l"><circle cx="252" cy="429" r="2.5"/></g>
<g id="n424" class="p"><circle cx="304" cy="423" r="2.5"/></g>
<g id="n425" class="l"><circle cx="335" cy="422" r="2.5"/></g>
<g id="n426" class="p"><circle cx="360" cy="420" r="2.5"/></g>
<g id="n427" class="g2"><circle cx="383" cy="418" r="2.5"/></g>
<g id="n428" class="p"><circle cx="224" cy="427" r="2.5"/></g>
<g id="n429" class="c"><circle cx="217" cy="434" r="2.5"/></g>
<g id="n430" class="l"><circle cx="227" cy="437" r="2.5"/></g>
<g id="n431" class="l"><circle cx="322" cy="433" r="2.5"/></g>
<g id="n432" class="p"><circle cx="285" cy="439" r="2.5"/></g>
<g id="n433" class="p"><circle cx="283" cy="450" r="2.5"/></g>
<g id="n434" class="l"><circle cx="339" cy="441" r="2.5"/></g>
<g id="n435" class="y"><circle cx="349" cy="442" r="2.5"/></g>
<g id="n436" class="y"><circle cx="380" cy="437" r="2.5"/></g>
<g id="n437" class="l"><circle cx="370" cy="441" r="2.5"/></g>
<g id="n438" class="c"><circle cx="377" cy="448" r="2.5"/></g>
<g id="n439" class="a"><circle cx="312" cy="451" r="2.5"/></g>
<g id="n440" class="p"><circle cx="220" cy="463" r="2.5"/></g>
<g id="n441" class="g2"><circle cx="211" cy="469" r="2.5"/></g>
<g id="n442" class="a"><circle cx="221" cy="475" r="2.5"/></g>
<g id="n443" class="l"><circle cx="226" cy="487" r="2.5"/></g>
<g id="n444" class="l"><circle cx="230" cy="497" r="2.5"/></g>
<g id="n445" class="c"><circle cx="254" cy="464" r="3.5"/></g>
<g id="n446" class="c"><circle cx="298" cy="472" r="2.5"/></g>
<g id="n447" class="p"><circle cx="299" cy="483" r="2.5"/></g>
<g id="n448" class="l"><circle cx="342" cy="468" r="2.5"/></g>
<g id="n449" class="c"><circle cx="334" cy="475" r="2.5"/></g>
<g id="n450" class="a"><circle cx="327" cy="484" r="2.5"/></g>
<g id="n451" class="l"><circle cx="368" cy="466" r="2.5"/></g>
<g id="n452" class="o"><circle cx="393" cy="463" r="2.5"/></g>
<g id="n453" class="l"><circle cx="383" cy="478" r="2.5"/></g>
<g id="n454" class="p"><circle cx="276" cy="481" r="2.5"/></g>
<g id="n455" class="c"><circle cx="270" cy="490" r="2.5"/></g>
<g id="n456" class="p"><circle cx="262" cy="497" r="2.5"/></g>
<g id="n457" class="c"><circle cx="365" cy="493" r="2.5"/></g>
<g id="n458" class="p"><circle cx="360" cy="503" r="2.5"/></g>
<g id="n459" class="c"><circle cx="393" cy="494" r="2.5"/></g>
<g id="n460" class="c"><circle cx="392" cy="505" r="2.5"/></g>
<g id="n461" class="g"><circle cx="210" cy="514" r="2.5"/></g>
<g id="n462" class="c"><circle cx="249" cy="513" r="2.5"/></g>
<g id="n463" class="c"><circle cx="287" cy="505" r="2.5"/></g>
<g id="n464" class="c"><circle cx="311" cy="511" r="2.5"/></g>
<g id="n465" class="y"><circle cx="333" cy="511" r="2.5"/></g>
<g id="n466" class="o"><circle cx="224" cy="526" r="2.5"/></g>
<g id="n467" class="c"><circle cx="272" cy="527" r="2.5"/></g>
<g id="n468" class="a"><circle cx="297" cy="527" r="2.5"/></g>
<g id="n469" class="c"><circle cx="322" cy="532" r="2.5"/></g>
<g id="n470" class="o"><circle cx="346" cy="529" r="2.5"/></g>
<g id="n471" class="o"><circle cx="376" cy="524" r="2.5"/></g>
<g id="n472" class="p"><circle cx="247" cy="540" r="2.5"/></g>
<g id="n473" class="l"><circle cx="224" cy="552" r="2.5"/></g>
<g id="n474" class="l"><circle cx="272" cy="551" r="2.5"/></g>
<g id="n475" class="l"><circle cx="303" cy="551" r="2.5"/></g>
<g id="n476" class="l"><circle cx="335" cy="553" r="2.5"/></g>
<g id="n477" class="l"><circle cx="365" cy="549" r="2.5"/></g>
<g id="n478" class="c"><circle cx="376" cy="547" r="2.5"/></g>
<g id="n479" class="y"><circle cx="395" cy="555" r="2.5"/></g>
<g id="n480" class="p"><circle cx="248" cy="567" r="2.5"/></g>
<g id="n481" class="c"><circle cx="277" cy="575" r="2.5"/></g>
<g id="n482" class="l"><circle cx="302" cy="581" r="2.5"/></g>
<g id="n483" class="o"><circle cx="327" cy="578" r="2.5"/></g>
<g id="n484" class="y"><circle cx="353" cy="574" r="2.5"/></g>
<g id="n485" class="w"><circle cx="380" cy="573" r="2.5"/></g>
<g id="n486" class="o"><circle cx="401" cy="307" r="2.5"/></g>
<g id="n487" class="p"><circle cx="410" cy="312" r="2.5"/></g>
<g id="n488" class="c"><circle cx="421" cy="314" r="2.5"/></g>
<g id="n489" class="l"><circle cx="431" cy="318" r="2.5"/></g>
<g id="n490" class="l"><circle cx="442" cy="321" r="2.5"/></g>
<g id="n491" class="p"><circle cx="453" cy="321" r="2.5"/></g>
<g id="n492" class="c"><circle cx="509" cy="336" r="2.5"/></g>
<g id="n493" class="l"><circle cx="533" cy="332" r="2.5"/></g>
<g id="n494" class="l"><circle cx="539" cy="341" r="2.5"/></g>
<g id="n495" class="l"><circle cx="571" cy="347" r="2.5"/></g>
<g id="n496" class="p"><circle cx="468" cy="341" r="2.5"/></g>
<g id="n497" class="l"><circle cx="479" cy="341" r="2.5"/></g>
<g id="n498" class="l"><circle cx="446" cy="350" r="2.5"/></g>
<g id="n499" class="w"><circle cx="439" cy="361" r="2.5"/></g>
<g id="n500" class="w"><circle cx="428" cy="365" r="2.5"/></g>
<g id="n501" class="l"><circle cx="436" cy="372" r="2.5"/></g>
<g id="n502" class="l"><circle cx="425" cy="376" r="2.5"/></g>
<g id="n503" class="p"><circle cx="546" cy="364" r="2.5"/></g>
<g id="n504" class="y"><circle cx="576" cy="370" r="2.5"/></g>
<g id="n505" class="p"><circle cx="485" cy="362" r="2.5"/></g>
<g id="n506" class="l"><circle cx="496" cy="363" r="2.5"/></g>
<g id="n507" class="c"><circle cx="507" cy="369" r="2.5"/></g>
<g id="n508" class="p"><circle cx="515" cy="378" r="2.5"/></g>
<g id="n509" class="p"><circle cx="512" cy="389" r="2.5"/></g>
<g id="n510" class="l"><circle cx="523" cy="387" r="2.5"/></g>
<g id="n511" class="g2"><circle cx="528" cy="399" r="2.5"/></g>
<g id="n512" class="l"><circle cx="528" cy="410" r="2.5"/></g>
<g id="n513" class="p"><circle cx="559" cy="388" r="2.5"/></g>
<g id="n514" class="c"><circle cx="557" cy="399" r="2.5"/></g>
<g id="n515" class="l"><circle cx="465" cy="374" r="2.5"/></g>
<g id="n516" class="g2"><circle cx="402" cy="386" r="2.5"/></g>
<g id="n517" class="l"><circle cx="481" cy="391" r="2.5"/></g>
<g id="n518" class="y"><circle cx="474" cy="399" r="2.5"/></g>
<g id="n519" class="l"><circle cx="485" cy="401" r="2.5"/></g>
<g id="n520" class="w"><circle cx="494" cy="408" r="2.5"/></g>
<g id="n521" class="l"><circle cx="455" cy="392" r="2.5"/></g>
<g id="n522" class="l"><circle cx="407" cy="409" r="2.5"/></g>
<g id="n523" class="l"><circle cx="437" cy="407" r="2.5"/></g>
<g id="n524" class="a"><circle cx="460" cy="414" r="2.5"/></g>
<g id="n525" class="l"><circle cx="510" cy="421" r="2.5"/></g>
<g id="n526" class="c"><circle cx="425" cy="432" r="2.5"/></g>
<g id="n527" class="g2"><circle cx="448" cy="431" r="2.5"/></g>
<g id="n528" class="l"><circle cx="401" cy="436" r="2.5"/></g>
<g id="n529" class="c"><circle cx="482" cy="434" r="2.5"/></g>
<g id="n530" class="g2"><circle cx="472" cy="439" r="2.5"/></g>
<g id="n531" class="c"><circle cx="483" cy="445" r="2.5"/></g>
<g id="n532" class="w"><circle cx="488" cy="456" r="2.5"/></g>
<g id="n533" class="l"><circle cx="493" cy="467" r="2.5"/></g>
<g id="n534" class="c"><circle cx="545" cy="427" r="2.5"/></g>
<g id="n535" class="c"><circle cx="544" cy="438" r="2.5"/></g>
<g id="n536" class="y"><circle cx="519" cy="443" r="2.5"/></g>
<g id="n537" class="p"><circle cx="443" cy="450" r="2.5"/></g>
<g id="n538" class="o"><circle cx="447" cy="460" r="2.5"/></g>
<g id="n539" class="c"><circle cx="446" cy="471" r="2.5"/></g>
<g id="n540" class="a"><circle cx="417" cy="457" r="2.5"/></g>
<g id="n541" class="g2"><circle cx="527" cy="468" r="2.5"/></g>
<g id="n542" class="c"><circle cx="412" cy="482" r="2.5"/></g>
<g id="n543" class="c"><circle cx="422" cy="487" r="2.5"/></g>
<g id="n544" class="l"><circle cx="431" cy="493" r="2.5"/></g>
<g id="n545" class="p"><circle cx="466" cy="486" r="2.5"/></g>
<g id="n546" class="c"><circle cx="461" cy="495" r="2.5"/></g>
<g id="n547" class="l"><circle cx="490" cy="492" r="2.5"/></g>
<g id="n548" class="a"><circle cx="513" cy="488" r="2.5"/></g>
<g id="n549" class="l"><circle cx="498" cy="510" r="2.5"/></g>
<g id="n550" class="l"><circle cx="474" cy="519" r="2.5"/></g>
<g id="n551" class="c"><circle cx="442" cy="515" r="2.5"/></g>
<g id="n552" class="a"><circle cx="417" cy="516" r="2.5"/></g>
<g id="n553" class="p"><circle cx="410" cy="525" r="2.5"/></g>
<g id="n554" class="g2"><circle cx="403" cy="534" r="2.5"/></g>
<g id="n555" class="l"><circle cx="453" cy="536" r="2.5"/></g>
<g id="n556" class="c"><circle cx="428" cy="548" r="2.5"/></g>
<g id="n557" class="y"><circle cx="410" cy="563" r="2.5"/></g>
</g>
</svg>
